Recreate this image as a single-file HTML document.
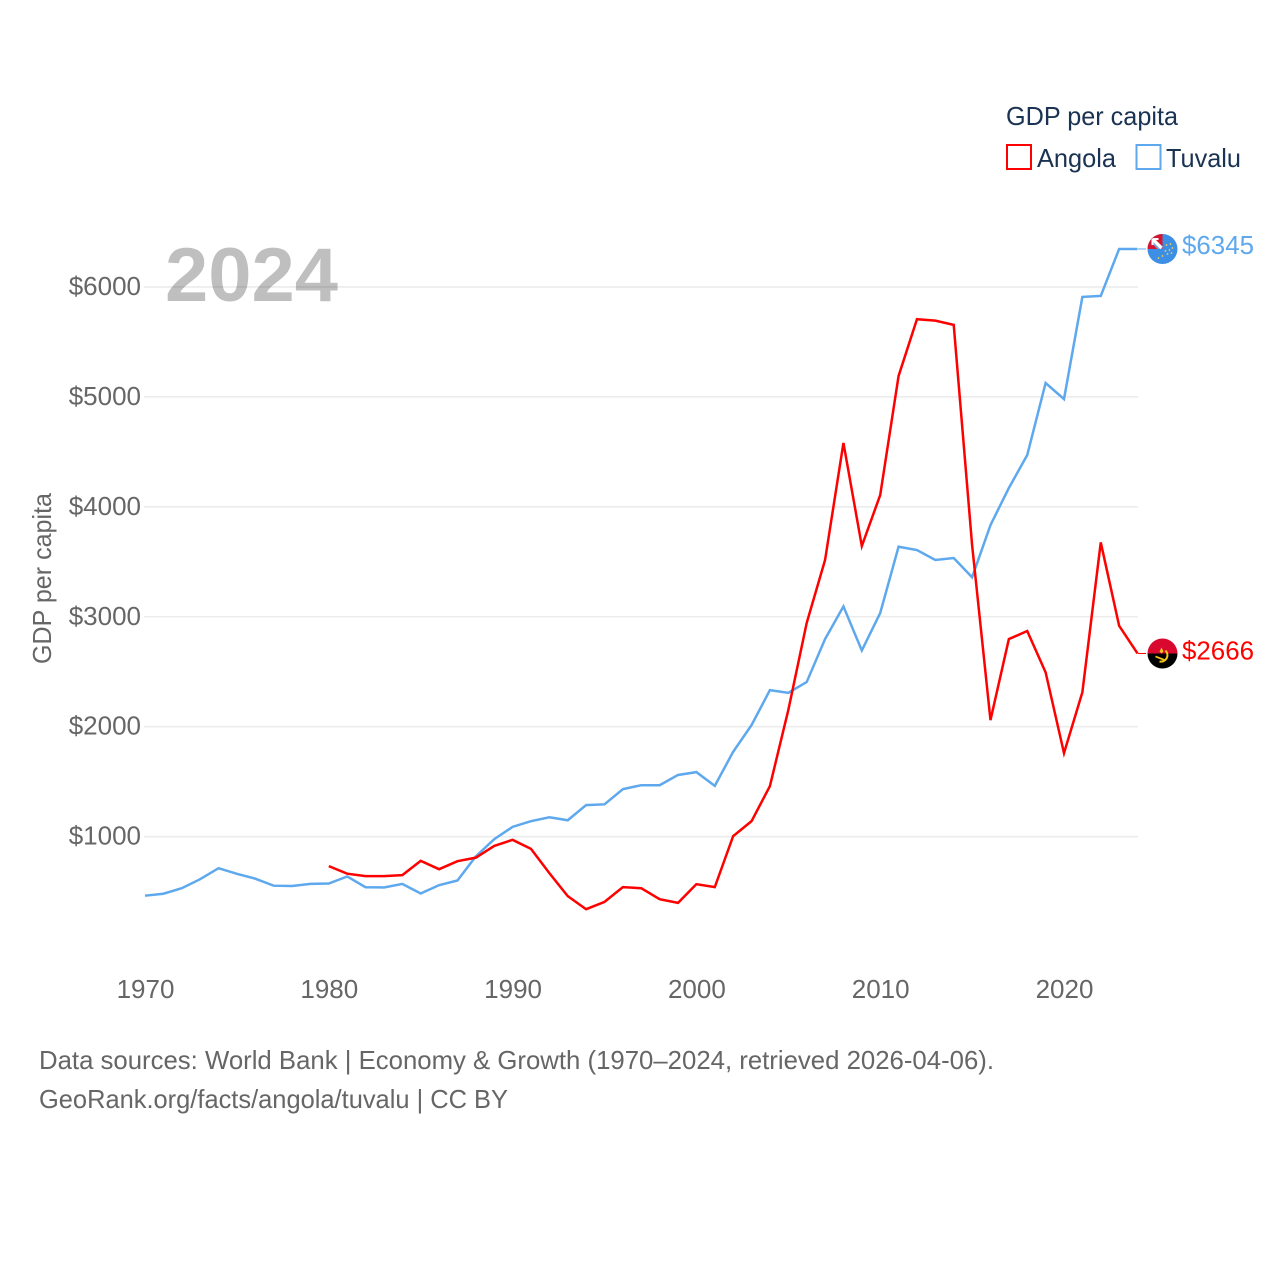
<!DOCTYPE html>
<html lang="en">
<head>
<meta charset="utf-8">
<title>GDP per capita: Angola and Tuvalu</title>
<style>
  html, body { margin: 0; padding: 0; background: #fff; }
  svg { display: block; font-family: "Liberation Sans", sans-serif; }
</style>
</head>
<body>
<svg id="chart" xmlns="http://www.w3.org/2000/svg" width="1280" height="1280" viewBox="0 0 1280 1280">
  <defs>
    <clipPath id="flag-clip"><circle cx="0" cy="0" r="15"></circle></clipPath>
  </defs>
  <rect x="0" y="0" width="1280" height="1280" fill="#ffffff"></rect>

  <g id="grid"></g>
  <g id="y-ticks"></g>
  <g id="x-ticks"></g>

  <text x="165" y="301" font-size="76" font-weight="700" fill="#000000" fill-opacity="0.25" textLength="173" lengthAdjust="spacingAndGlyphs">2024</text>

  <text transform="translate(51 664) rotate(-90)" x="0" y="0" font-size="26" fill="#666666" textLength="171" lengthAdjust="spacingAndGlyphs">GDP per capita</text>

  <g id="series"></g>

  <g id="tuvalu-flag">
    <g clip-path="url(#flag-clip)">
      <rect x="-16" y="-16" width="32" height="32" fill="#3d8fe6"></rect>
      <rect x="-16" y="-16" width="16" height="16" fill="#d8152f"></rect>
      <path d="M-9 -9 L0 0 L-5 0 L-9 -4 Z" fill="#7f9fd6"></path>
      <path d="M-9 -9 L-1 -1" stroke="#ffffff" stroke-width="3.4"></path>
      <path d="M-10 -10 L-4 -10 M-10 -10 L-10 -4" stroke="#ffffff" stroke-width="2"></path>
      <g fill="#f2d04a">
        <circle cx="4" cy="-4" r="0.9"></circle>
        <circle cx="8" cy="-5" r="0.9"></circle>
        <circle cx="3" cy="2" r="0.9"></circle>
        <circle cx="7" cy="1" r="0.9"></circle>
        <circle cx="10" cy="-1" r="0.9"></circle>
        <circle cx="5" cy="5" r="0.9"></circle>
        <circle cx="9" cy="4" r="0.9"></circle>
        <circle cx="0" cy="7" r="0.9"></circle>
        <circle cx="-4" cy="9" r="0.9"></circle>
      </g>
    </g>
  </g>

  <g id="angola-flag">
    <g clip-path="url(#flag-clip)">
      <rect x="-16" y="-16" width="32" height="16" fill="#d9082f"></rect>
      <rect x="-16" y="0" width="32" height="16" fill="#000000"></rect>
      <path d="M3 -3 A6.5 6.5 0 0 1 -3 8" fill="none" stroke="#f5c518" stroke-width="2"></path>
      <path d="M-7 3 L3 7" stroke="#f5c518" stroke-width="1.8"></path>
      <path d="M-3 -2 L-1 -6 L1 -2 L-1 0 Z" fill="#f5c518"></path>
    </g>
  </g>

  <text id="tuvalu-value" x="1182" font-size="26" fill="#5ea8ee" textLength="72" lengthAdjust="spacingAndGlyphs"></text>
  <text id="angola-value" x="1182" font-size="26" fill="#ff0000" textLength="72" lengthAdjust="spacingAndGlyphs"></text>

  <g>
    <text x="1006" y="125" font-size="26" fill="#1b3352" textLength="172" lengthAdjust="spacingAndGlyphs">GDP per capita</text>
    <g>
      <rect x="1007" y="145" width="24" height="24" fill="#ffffff" stroke="#ff0000" stroke-width="2"></rect>
      <text x="1037" y="167" font-size="26" fill="#1b3352" textLength="79" lengthAdjust="spacingAndGlyphs">Angola</text>
    </g>
    <g>
      <rect x="1136.5" y="145" width="24" height="24" fill="#ffffff" stroke="#5ea8ee" stroke-width="2"></rect>
      <text x="1166" y="167" font-size="26" fill="#1b3352" textLength="75" lengthAdjust="spacingAndGlyphs">Tuvalu</text>
    </g>
  </g>

  <text x="39" y="1069" font-size="26" fill="#666666" textLength="955" lengthAdjust="spacingAndGlyphs">Data sources: World Bank | Economy &amp; Growth (1970–2024, retrieved 2026-04-06).</text>
  <text x="39" y="1108" font-size="26" fill="#666666" textLength="469" lengthAdjust="spacingAndGlyphs">GeoRank.org/facts/angola/tuvalu | CC BY</text>
</svg>

<script>
const years = [1970,1971,1972,1973,1974,1975,1976,1977,1978,1979,1980,1981,1982,1983,1984,1985,1986,1987,1988,1989,1990,1991,1992,1993,1994,1995,1996,1997,1998,1999,2000,2001,2002,2003,2004,2005,2006,2007,2008,2009,2010,2011,2012,2013,2014,2015,2016,2017,2018,2019,2020,2021,2022,2023,2024];
const tuvaluValues = [463,481,531,613,713,662,618,554,551,570,574,638,540,538,570,483,559,601,821,977,1089,1141,1176,1149,1287,1294,1432,1468,1468,1561,1587,1462,1772,2015,2333,2308,2406,2797,3094,2693,3034,3637,3607,3516,3534,3359,3834,4171,4471,5126,4980,5909,5918,6345,6345];
const angolaValues = [null,null,null,null,null,null,null,null,null,null,732,663,641,641,650,780,704,777,809,916,971,889,668,459,340,407,541,531,431,398,568,541,1005,1141,1460,2151,2943,3516,4581,3643,4107,5190,5706,5693,5654,3652,2060,2797,2870,2494,1760,2314,3676,2918,2666];
const xTickLabels = [1970,1980,1990,2000,2010,2020];
const yTickLabels = [1000,2000,3000,4000,5000,6000];

const SVG_NS = 'http://www.w3.org/2000/svg';
const X_ORIGIN = 145;
const X_STEP = 18.38;
const Y_ZERO = 946.6;
const Y_SCALE = 0.10995;
const PLOT_RIGHT = 1138;

function xScale(year) { return X_ORIGIN + (year - years[0]) * X_STEP; }
function yScale(value) { return Y_ZERO - value * Y_SCALE; }
function svgEl(tag) { return document.createElementNS(SVG_NS, tag); }
function money(value) { return '$' + Math.round(value); }

function linePath(values) {
  let d = '';
  let pen = false;
  values.forEach(function (v, i) {
    if (v === null) { pen = false; return; }
    d += (pen ? 'L' : 'M') + xScale(years[i]).toFixed(2) + ' ' + yScale(v).toFixed(2);
    pen = true;
  });
  return d;
}

const gridGroup = document.getElementById('grid');
const yTickGroup = document.getElementById('y-ticks');
const xTickGroup = document.getElementById('x-ticks');
const seriesGroup = document.getElementById('series');

yTickLabels.forEach(function (tick) {
  const line = svgEl('line');
  
  
  line.setAttribute('x1', 144);
  line.setAttribute('x2', PLOT_RIGHT);
  line.setAttribute('y1', yScale(tick));
  line.setAttribute('y2', yScale(tick));
  line.setAttribute('stroke', '#ececec');
  line.setAttribute('stroke-width', 1.6);
  gridGroup.appendChild(line);

  const label = svgEl('text');
  
  
  label.setAttribute('x', 141);
  label.setAttribute('y', yScale(tick) + 8);
  label.setAttribute('text-anchor', 'end');
  label.setAttribute('font-size', 26);
  label.setAttribute('fill', '#666666');
  label.textContent = money(tick);
  yTickGroup.appendChild(label);
});

xTickLabels.forEach(function (tick) {
  const label = svgEl('text');
  
  
  label.setAttribute('x', xScale(tick) + 0.5);
  label.setAttribute('y', 998);
  label.setAttribute('text-anchor', 'middle');
  label.setAttribute('font-size', 26);
  label.setAttribute('fill', '#666666');
  label.textContent = String(tick);
  xTickGroup.appendChild(label);
});

const tuvaluLine = svgEl('path');


tuvaluLine.setAttribute('d', linePath(tuvaluValues));
tuvaluLine.setAttribute('fill', 'none');
tuvaluLine.setAttribute('stroke', '#5ea8ee');
tuvaluLine.setAttribute('stroke-width', 2.5);
seriesGroup.appendChild(tuvaluLine);

const angolaLine = svgEl('path');


angolaLine.setAttribute('d', linePath(angolaValues));
angolaLine.setAttribute('fill', 'none');
angolaLine.setAttribute('stroke', '#ff0000');
angolaLine.setAttribute('stroke-width', 2.5);
seriesGroup.appendChild(angolaLine);

const tuvaluLast = tuvaluValues[tuvaluValues.length - 1];
const angolaLast = angolaValues[angolaValues.length - 1];

const tuvaluConnector = svgEl('line');


tuvaluConnector.setAttribute('x1', PLOT_RIGHT);
tuvaluConnector.setAttribute('x2', 1146);
tuvaluConnector.setAttribute('y1', yScale(tuvaluLast));
tuvaluConnector.setAttribute('y2', yScale(tuvaluLast));
tuvaluConnector.setAttribute('stroke', '#5ea8ee');
tuvaluConnector.setAttribute('stroke-width', 1);
seriesGroup.appendChild(tuvaluConnector);

const angolaConnector = svgEl('line');


angolaConnector.setAttribute('x1', PLOT_RIGHT);
angolaConnector.setAttribute('x2', 1146);
angolaConnector.setAttribute('y1', yScale(angolaLast));
angolaConnector.setAttribute('y2', yScale(angolaLast));
angolaConnector.setAttribute('stroke', '#ff0000');
angolaConnector.setAttribute('stroke-width', 1);
seriesGroup.appendChild(angolaConnector);

document.getElementById('tuvalu-flag').setAttribute('transform', 'translate(1162.5 ' + yScale(tuvaluLast) + ')');
document.getElementById('angola-flag').setAttribute('transform', 'translate(1162.5 ' + yScale(angolaLast) + ')');

const tuvaluValueLabel = document.getElementById('tuvalu-value');
tuvaluValueLabel.setAttribute('y', yScale(tuvaluLast) + 5);
tuvaluValueLabel.textContent = money(tuvaluLast);

const angolaValueLabel = document.getElementById('angola-value');
angolaValueLabel.setAttribute('y', yScale(angolaLast) + 6);
angolaValueLabel.textContent = money(angolaLast);
</script>
</body>
</html>
